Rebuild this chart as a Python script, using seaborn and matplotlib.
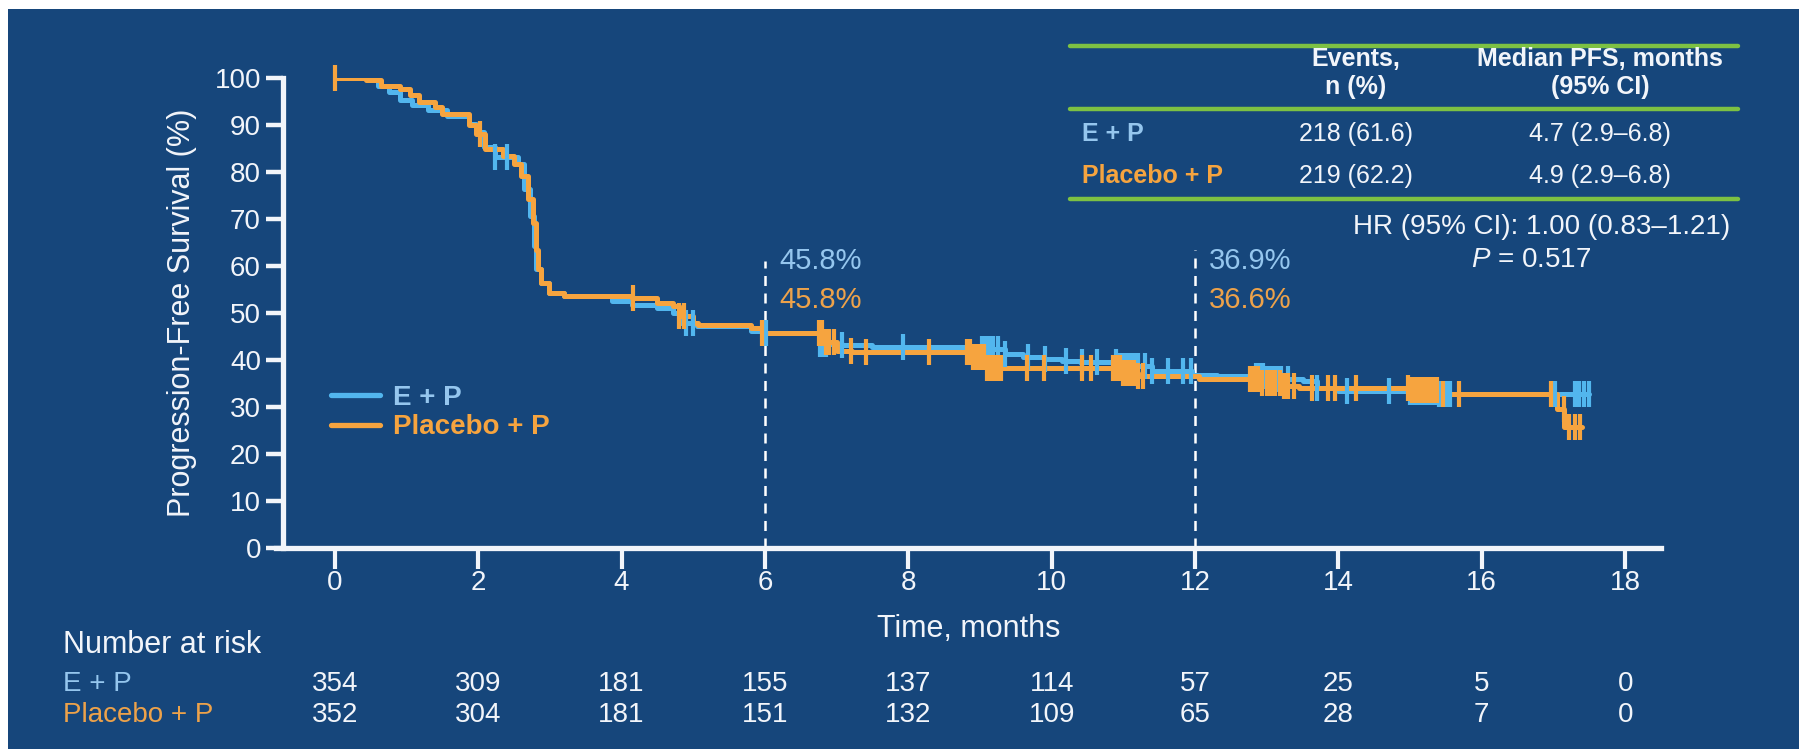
import numpy as np
import pandas as pd
import matplotlib
matplotlib.use('Agg')
import matplotlib.pyplot as plt
import matplotlib.transforms as mtransforms
from matplotlib.lines import Line2D
from matplotlib.patches import Rectangle
import seaborn as sns

# Data
arms = ['E + P', 'Placebo + P']

ep_time = [0, 0.6, 0.76, 0.91, 1.08, 1.3, 1.56, 1.87, 1.97, 2.08, 2.24, 2.56, 2.64, 2.72,
           2.78, 2.8, 2.88, 2.99, 3.2, 3.87, 4.14, 4.5, 4.72, 4.83, 5.05, 5.8, 5.96,
           6.77, 7.07, 7.5, 8.82, 9.03, 9.35, 9.6, 9.9, 10.15, 10.4, 10.95, 11.4, 11.96,
           12.3, 13.0, 13.5, 13.7, 14.0, 15.0, 15.4, 17.5]
ep_surv = [100, 98.4, 97.0, 95.3, 94.2, 93.1, 92.0, 90.2, 88.5, 85.3, 83.1, 81.7, 76.4, 70.7,
           64.3, 59.3, 56.4, 54.3, 53.6, 52.5, 51.8, 51.0, 50.0, 47.9, 47.2, 46.1, 45.8,
           43.4, 43.1, 42.8, 42.7, 42.3, 41.3, 40.6, 40.2, 39.8, 39.6, 38.8, 37.7, 36.9,
           36.6, 36.0, 35.6, 34.0, 33.3, 33.1, 32.8, 32.8]

pl_time = [0, 0.43, 0.65, 0.91, 1.05, 1.18, 1.4, 1.5, 1.87, 1.97, 2.1, 2.34, 2.5, 2.6,
           2.69, 2.77, 2.8, 2.83, 2.88, 2.99, 3.2, 4.14, 4.5, 4.72, 4.8, 4.99, 5.06, 5.8,
           5.96, 6.85, 7.0, 7.22, 8.9, 9.1, 10.97, 11.2, 12.05, 12.9, 13.2, 13.45, 15.0,
           15.4, 17.05, 17.15, 17.4]
pl_surv = [100, 99.5, 98.4, 97.7, 96.3, 94.9, 93.8, 92.4, 89.9, 88.1, 84.9, 83.5, 81.7, 79.2,
           74.2, 69.2, 63.5, 59.3, 56.4, 54.3, 53.6, 53.2, 52.1, 51.4, 49.3, 47.9, 47.5, 46.8,
           45.8, 43.8, 42.0, 41.6, 40.6, 38.3, 37.3, 36.6, 35.9, 35.2, 34.5, 34.1, 33.6,
           32.8, 29.5, 25.8, 25.8]

ep_censor = [2.24, 2.4, 4.9, 5.0, 6.02, 6.77, 6.81, 6.85, 7.07, 7.92, 9.03, 9.08, 9.13, 9.18,
             9.25, 9.35, 9.67, 9.91, 10.2, 10.42, 10.63, 10.9, 10.95, 11.0, 11.05, 11.1, 11.15,
             11.2, 11.3, 11.4, 11.62, 11.83, 11.94, 12.85, 12.9, 12.95, 13.0, 13.05, 13.1,
             13.15, 13.2, 13.3, 13.7, 14.12, 14.7, 15.0, 15.05, 15.1, 15.15, 15.2, 15.25,
             15.3, 15.35, 15.4, 15.5, 15.56, 17.02, 17.3, 17.35, 17.42, 17.5]
pl_censor = [0, 2.03, 4.16, 4.8, 4.87, 5.96, 6.75, 6.8, 6.85, 6.9, 6.96, 7.2, 7.41, 8.29,
             8.82, 8.86, 8.9, 8.95, 9.0, 9.05, 9.1, 9.15, 9.2, 9.25, 9.3, 9.65, 9.89, 10.42,
             10.55, 10.85, 10.9, 10.95, 11.0, 11.05, 11.1, 11.15, 11.2, 11.27, 12.76, 12.82,
             12.88, 12.94, 13.0, 13.06, 13.12, 13.18, 13.24, 13.3, 13.38, 13.63, 13.85, 13.95,
             14.25, 14.97, 15.02, 15.07, 15.12, 15.17, 15.22, 15.27, 15.32, 15.38, 15.46,
             15.68, 16.97, 17.14, 17.22, 17.3, 17.37]

risk_times = [0, 2, 4, 6, 8, 10, 12, 14, 16, 18]
ep_risk = [354, 309, 181, 155, 137, 114, 57, 25, 5, 0]
pl_risk = [352, 304, 181, 151, 132, 109, 65, 28, 7, 0]

landmark_times = [6, 12]
ep_landmark = ['45.8%', '36.9%']
pl_landmark = ['45.8%', '36.6%']
landmark_heights = [61, 63.5]

events = ['218 (61.6)', '219 (62.2)']
median_pfs = ['4.7 (2.9\u20136.8)', '4.9 (2.9\u20136.8)']
hr_text = 'HR (95% CI): 1.00 (0.83\u20131.21)'
p_text = '$\\mathit{P}$ = 0.517'

BG = '#16467B'
BLUE = '#52B6EE'
ORANGE = '#F6A43F'
BLUE_TXT = '#95C6EE'
ORANGE_TXT = '#EDA24A'
GREEN = '#7DC143'
WHITE = '#F2F5FA'

sns.set_theme(style='ticks')
plt.rcParams['font.family'] = ['Liberation Sans', 'DejaVu Sans']
plt.rcParams['mathtext.fontset'] = 'custom'
plt.rcParams['mathtext.it'] = 'Liberation Sans:italic'
plt.rcParams['mathtext.rm'] = 'Liberation Sans'

W, H = 1805, 749


def fx(px):
    return px / W


def fy(py):
    return 1 - py / H


fig = plt.figure(figsize=(W / 100, H / 100), dpi=100, facecolor='white')
fig.patches.append(Rectangle((fx(8), 0), fx(W - 14), 1 - 9 / H, transform=fig.transFigure,
                             facecolor=BG, edgecolor='none', zorder=-10))

ax = fig.add_axes([fx(276), fy(548), fx(1661) - fx(276), fy(78) - fy(548)])
ax.set_facecolor('none')

# KM curves
curves = pd.concat([
    pd.DataFrame({'time': ep_time, 'surv': ep_surv, 'arm': arms[0]}),
    pd.DataFrame({'time': pl_time, 'surv': pl_surv, 'arm': arms[1]}),
])
palette = {arms[0]: BLUE, arms[1]: ORANGE}
sns.lineplot(data=curves, x='time', y='surv', hue='arm', hue_order=arms, palette=palette,
             drawstyle='steps-post', estimator=None, linewidth=3.6, ax=ax)


def step_at(times, survs, c):
    idx = np.searchsorted(np.asarray(times), np.asarray(c), side='right') - 1
    return np.asarray(survs)[idx]


for t, s, c, col in [(ep_time, ep_surv, ep_censor, BLUE), (pl_time, pl_surv, pl_censor, ORANGE)]:
    sns.scatterplot(x=c, y=step_at(t, s, c), marker='|', s=340, linewidth=3, color=col,
                    ax=ax, clip_on=False, zorder=3, legend=False)

# landmark lines and labels
for t, h, a, b in zip(landmark_times, landmark_heights, ep_landmark, pl_landmark):
    ax.plot([t, t], [0, h], color='white', lw=1.8, ls=(0, (4, 3)), zorder=1)
    ax.text(t + 0.2, 61.0, a, color=BLUE_TXT, fontsize=21, va='center', ha='left')
    ax.text(t + 0.2, 52.7, b, color=ORANGE_TXT, fontsize=21, va='center', ha='left')

# axes styling
ax.set_xlim(-0.82, 18.5)
ax.set_ylim(0, 100)
ax.set_xticks(risk_times)
ax.set_yticks(range(0, 101, 10))
sns.despine(ax=ax)
ax.spines['left'].set_position(('data', -0.72))
ax.spines['left'].set_bounds(0, 100)
ax.spines['bottom'].set_bounds(-0.82, 18.5)
for sp in ['left', 'bottom']:
    ax.spines[sp].set_color(WHITE)
    ax.spines[sp].set_linewidth(3.8)
ax.tick_params(axis='y', colors=WHITE, length=12, width=3.2, labelsize=20, pad=4)
ax.tick_params(axis='x', colors=WHITE, length=15, width=3, labelsize=20, pad=1)
ax.set_xlabel('Time, months', color=WHITE, fontsize=22, labelpad=13)
ax.set_ylabel('Progression-Free Survival (%)', color=WHITE, fontsize=22)
ax.yaxis.set_label_coords(-0.057, 0.5)

# legend
sns.move_legend(ax, 'upper left', bbox_to_anchor=(0.022, 0.40), frameon=False, title=None,
                fontsize=20, handlelength=1.75, handletextpad=0.45, labelspacing=0.12)
leg = ax.get_legend()
for txt, col in zip(leg.get_texts(), [BLUE_TXT, ORANGE]):
    txt.set_color(col)
    txt.set_fontweight('bold')
for ln in leg.get_lines():
    ln.set_linewidth(3.8)

# number at risk
fig.text(fx(63), fy(645), 'Number at risk', color=WHITE, fontsize=22, va='center')
fig.text(fx(63), fy(684), arms[0], color=BLUE_TXT, fontsize=20, va='center')
fig.text(fx(63), fy(715), arms[1], color=ORANGE_TXT, fontsize=20, va='center')
blend = mtransforms.blended_transform_factory(ax.transData, fig.transFigure)
for t, a, b in zip(risk_times, ep_risk, pl_risk):
    ax.text(t, fy(684), str(a), transform=blend, color=WHITE, fontsize=20, ha='center', va='center')
    ax.text(t, fy(715), str(b), transform=blend, color=WHITE, fontsize=20, ha='center', va='center')

# summary table
for py in [46, 109, 199]:
    fig.add_artist(Line2D([fx(1070), fx(1738)], [fy(py), fy(py)], transform=fig.transFigure,
                          color=GREEN, lw=3.2))
fig.text(fx(1356), fy(73), 'Events,\nn (%)', color=WHITE, fontsize=18, fontweight='bold',
         ha='center', va='center', linespacing=1.2)
fig.text(fx(1600), fy(73), 'Median PFS, months\n(95% CI)', color=WHITE, fontsize=18,
         fontweight='bold', ha='center', va='center', linespacing=1.2)
for py, arm, col, ev, md in zip([134, 176], arms, [BLUE_TXT, ORANGE], events, median_pfs):
    fig.text(fx(1082), fy(py), arm, color=col, fontsize=18, fontweight='bold', va='center')
    fig.text(fx(1356), fy(py), ev, color=WHITE, fontsize=18, ha='center', va='center')
    fig.text(fx(1600), fy(py), md, color=WHITE, fontsize=18, ha='center', va='center')
fig.text(fx(1730), fy(227), hr_text, color=WHITE, fontsize=20, ha='right', va='center')
fig.text(fx(1531), fy(260), p_text, color=WHITE, fontsize=20, ha='center', va='center')

fig.savefig('out.png', dpi=100, facecolor='white')
